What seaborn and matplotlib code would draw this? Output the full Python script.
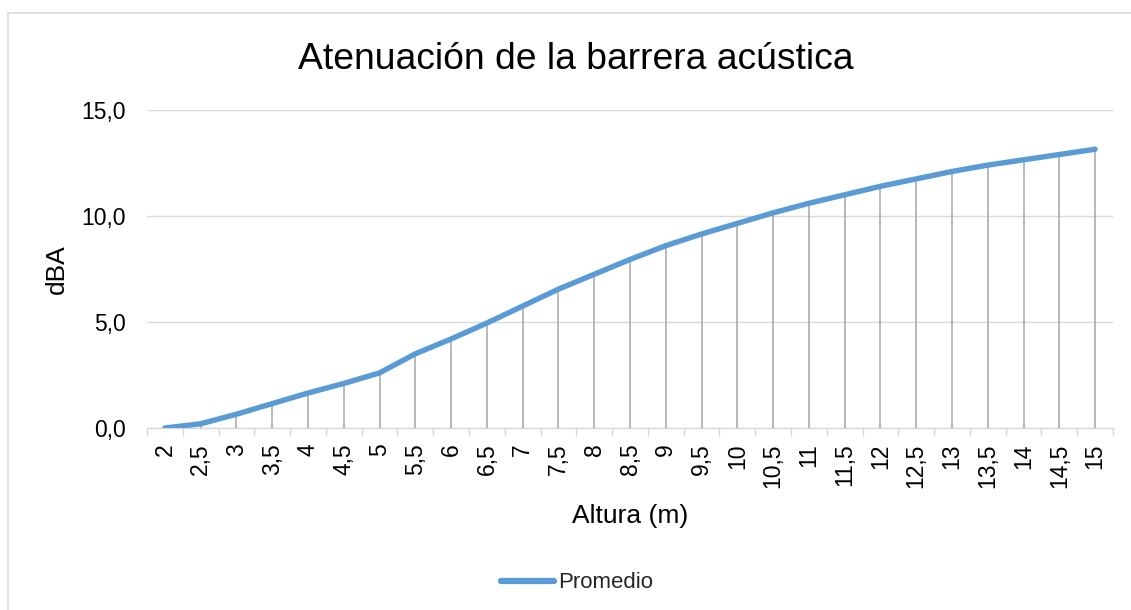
import matplotlib
matplotlib.use("Agg")
import matplotlib.pyplot as plt
import matplotlib.patches as mpatches
from matplotlib.ticker import FixedLocator, FuncFormatter
import numpy as np
import pandas as pd
import seaborn as sns

# Barrier height (m) and average attenuation (dBA)
alturas = [2, 2.5, 3, 3.5, 4, 4.5, 5, 5.5, 6, 6.5, 7, 7.5, 8, 8.5, 9, 9.5,
           10, 10.5, 11, 11.5, 12, 12.5, 13, 13.5, 14, 14.5, 15]
promedio = [0.0, 0.2, 0.65, 1.15, 1.65, 2.1, 2.6, 3.5, 4.2, 4.95, 5.75, 6.55,
            7.25, 7.95, 8.6, 9.15, 9.65, 10.15, 10.6, 11.0, 11.4, 11.75, 12.1,
            12.4, 12.65, 12.9, 13.15]
etiquetas_x = [f"{a:g}".replace(".", ",") for a in alturas]
ticks_y = [0, 5, 10, 15]

df = pd.DataFrame({"Altura": alturas, "Promedio": promedio})

sns.set_theme(style="white")
plt.rcParams["font.family"] = ["Liberation Sans", "DejaVu Sans"]

fig = plt.figure(figsize=(11.31, 6.10), dpi=100)
fig.patch.set_facecolor("white")
ax = fig.add_axes([147 / 1131, 1 - 428 / 610, (1113 - 147) / 1131, (428 - 110) / 610])

# chart-area frame
fig.patches.append(mpatches.Rectangle((8 / 1131, -0.2), 1.2, 0.2 + (1 - 13 / 610),
                                      transform=fig.transFigure, fill=False,
                                      edgecolor="#d9d9d9", linewidth=1.2, zorder=0))

# drop lines from each point to the category axis
ax.vlines(df["Altura"], 0, df["Promedio"], color="#a5a5a5", linewidth=1.1, zorder=2)

sns.lineplot(data=df, x="Altura", y="Promedio", ax=ax, color="#5b9bd5",
             linewidth=3.9, label="Promedio", zorder=3, sort=False)
for ln in ax.lines:
    ln.set_solid_capstyle("round")

ax.set_xlim(alturas[0] - 0.25, alturas[-1] + 0.25)
ax.set_ylim(0, 15)

ax.xaxis.set_major_locator(FixedLocator(alturas))
ax.set_xticklabels(etiquetas_x, rotation=90, fontsize=16.5)
ax.xaxis.set_minor_locator(FixedLocator(np.arange(alturas[0] - 0.25, alturas[-1] + 0.26, 0.5)))
ax.tick_params(axis="x", which="major", length=0, pad=11, colors="black")
ax.tick_params(axis="x", which="minor", bottom=True, length=6, width=1, color="#d9d9d9")

ax.yaxis.set_major_locator(FixedLocator(ticks_y))
ax.yaxis.set_major_formatter(FuncFormatter(lambda v, p: f"{v:.1f}".replace(".", ",")))
ax.tick_params(axis="y", length=0, pad=15, labelsize=16.5, colors="black")

ax.grid(axis="y", color="#d9d9d9", linewidth=1.0)
ax.grid(axis="x", visible=False)
ax.set_axisbelow(True)
for s in ["top", "right", "left"]:
    ax.spines[s].set_visible(False)
ax.spines["bottom"].set_color("#d9d9d9")
ax.spines["bottom"].set_linewidth(1.0)
ax.spines["bottom"].set_zorder(1)

ax.set_xlabel("Altura (m)", fontsize=19, color="black")
ax.set_ylabel("dBA", fontsize=19, color="black")
ax.xaxis.set_label_coords(0.5, (428 - 504) / 318)
ax.yaxis.set_label_coords((69 - 147) / 966, 0.5)

fig.text(575.5 / 1131, 1 - 69 / 610, "Atenuación de la barrera acústica",
         ha="center", va="baseline", fontsize=26.8, color="black")

leg = ax.legend(loc="center", bbox_to_anchor=(577 / 1131, 1 - 583 / 610),
                bbox_transform=fig.transFigure, frameon=False, fontsize=16,
                handlelength=2.4, handletextpad=0.2)
for h in leg.get_lines():
    h.set_linewidth(4.5)
    h.set_solid_capstyle("round")

fig.savefig("out.png", dpi=100, facecolor="white")
